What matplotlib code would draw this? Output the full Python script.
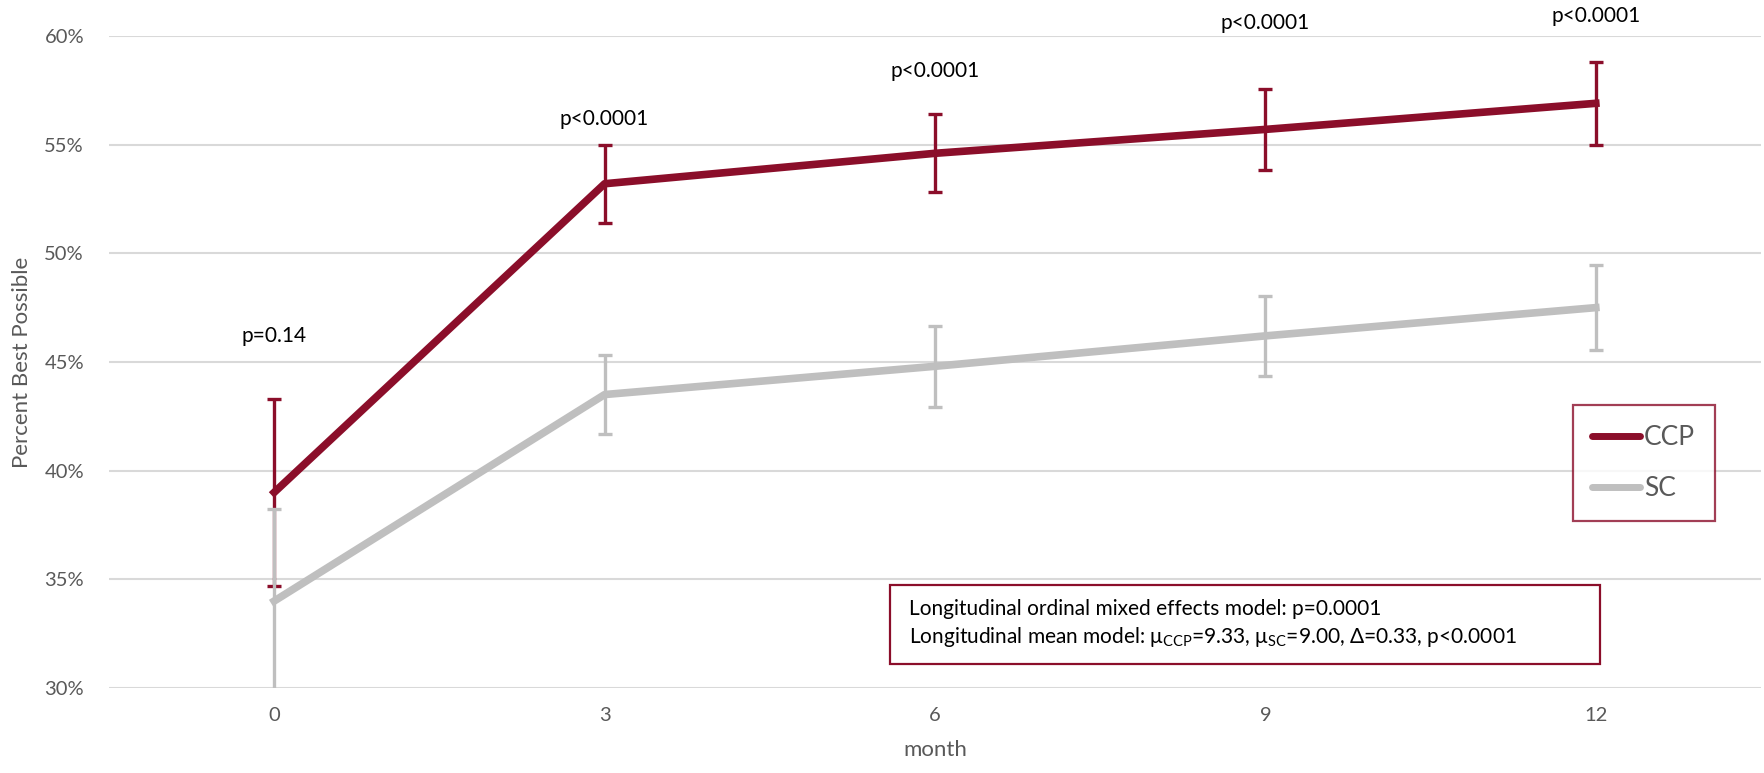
import numpy as np
import matplotlib
matplotlib.use("Agg")
import matplotlib.pyplot as plt
from matplotlib.patches import Rectangle
from matplotlib.lines import Line2D

plt.rcParams['font.family'] = ['Lato', 'DejaVu Sans']
plt.rcParams['mathtext.fontset'] = 'custom'
plt.rcParams['mathtext.rm'] = 'Lato'

# Datos: porcentaje del mejor posible por mes
months = [0, 3, 6, 9, 12]
ccp_mean = [39.0, 53.2, 54.6, 55.7, 56.9]
ccp_err = [4.3, 1.8, 1.8, 1.85, 1.9]
sc_mean = [34.0, 43.5, 44.8, 46.2, 47.5]
sc_err = [4.25, 1.8, 1.85, 1.85, 1.95]
p_labels = ['p=0.14', 'p<0.0001', 'p<0.0001', 'p<0.0001', 'p<0.0001']
p_pos = [46.2, 56.2, 58.4, 60.6, 60.9]

red = '#8B0E2A'
grey = '#BFBFBF'
txt = '#595959'

fig = plt.figure(figsize=(17.64, 7.73), dpi=100)
ax = fig.add_axes([0.0618, 0.11, 0.9365, 0.8435])

# CCP primero, SC encima
ax.errorbar(months, ccp_mean, yerr=ccp_err, color=red, lw=5.5, elinewidth=2.4,
            capsize=5, capthick=2.4, zorder=3)
ax.errorbar(months, sc_mean, yerr=sc_err, color=grey, lw=5.5, elinewidth=2.4,
            capsize=5, capthick=2.4, zorder=4)

for m, lab, yp in zip(months, p_labels, p_pos):
    ax.text(m, yp, lab, ha='center', va='center', fontsize=15, color='black')

ax.set_xlim(-1.5, 13.5)
ax.set_ylim(30, 60)
ax.set_xticks(months)
ax.set_yticks(np.arange(30, 61, 5))
ax.set_yticklabels([f'{v}%' for v in range(30, 61, 5)])
ax.tick_params(length=0, labelsize=14.5, colors=txt)
ax.tick_params(axis='y', pad=18)
ax.tick_params(axis='x', pad=14)
ax.grid(axis='y', color='#D9D9D9', lw=1.5)
ax.set_axisbelow(True)
for s in ax.spines.values():
    s.set_visible(False)

ax.set_xlabel('month', fontsize=16, color=txt, labelpad=11)
ax.set_ylabel('Percent Best Possible', fontsize=16, color=txt, labelpad=9)

handles = [Line2D([], [], color=red, lw=5, solid_capstyle='round'),
           Line2D([], [], color=grey, lw=5, solid_capstyle='round')]
leg = ax.legend(handles, ['CCP', 'SC'], loc='upper left',
                bbox_to_anchor=(0.886, 0.434), fontsize=19,
                frameon=True, fancybox=False, handlelength=1.8, handletextpad=0.15,
                labelspacing=1.0, borderpad=0.75, borderaxespad=0,
                labelcolor=txt)
leg.get_frame().set_edgecolor(red)
leg.get_frame().set_linewidth(1.6)

# Cuadro con resultados del modelo
ax.add_patch(Rectangle((0.473, 0.037), 0.4295, 0.121, transform=ax.transAxes,
                       fill=True, facecolor='white', edgecolor=red, lw=1.6, zorder=5))
ax.text(0.484, 0.121, 'Longitudinal ordinal mixed effects model: p=0.0001',
        transform=ax.transAxes, fontsize=15, va='center', ha='left', zorder=6)
ax.text(0.484, 0.078,
        r'Longitudinal mean model: μ$_{\mathrm{CCP}}$=9.33, μ$_{\mathrm{SC}}$=9.00, Δ=0.33, p<0.0001',
        transform=ax.transAxes, fontsize=15, va='center', ha='left', zorder=6)

fig.savefig('out.png', dpi=100)
